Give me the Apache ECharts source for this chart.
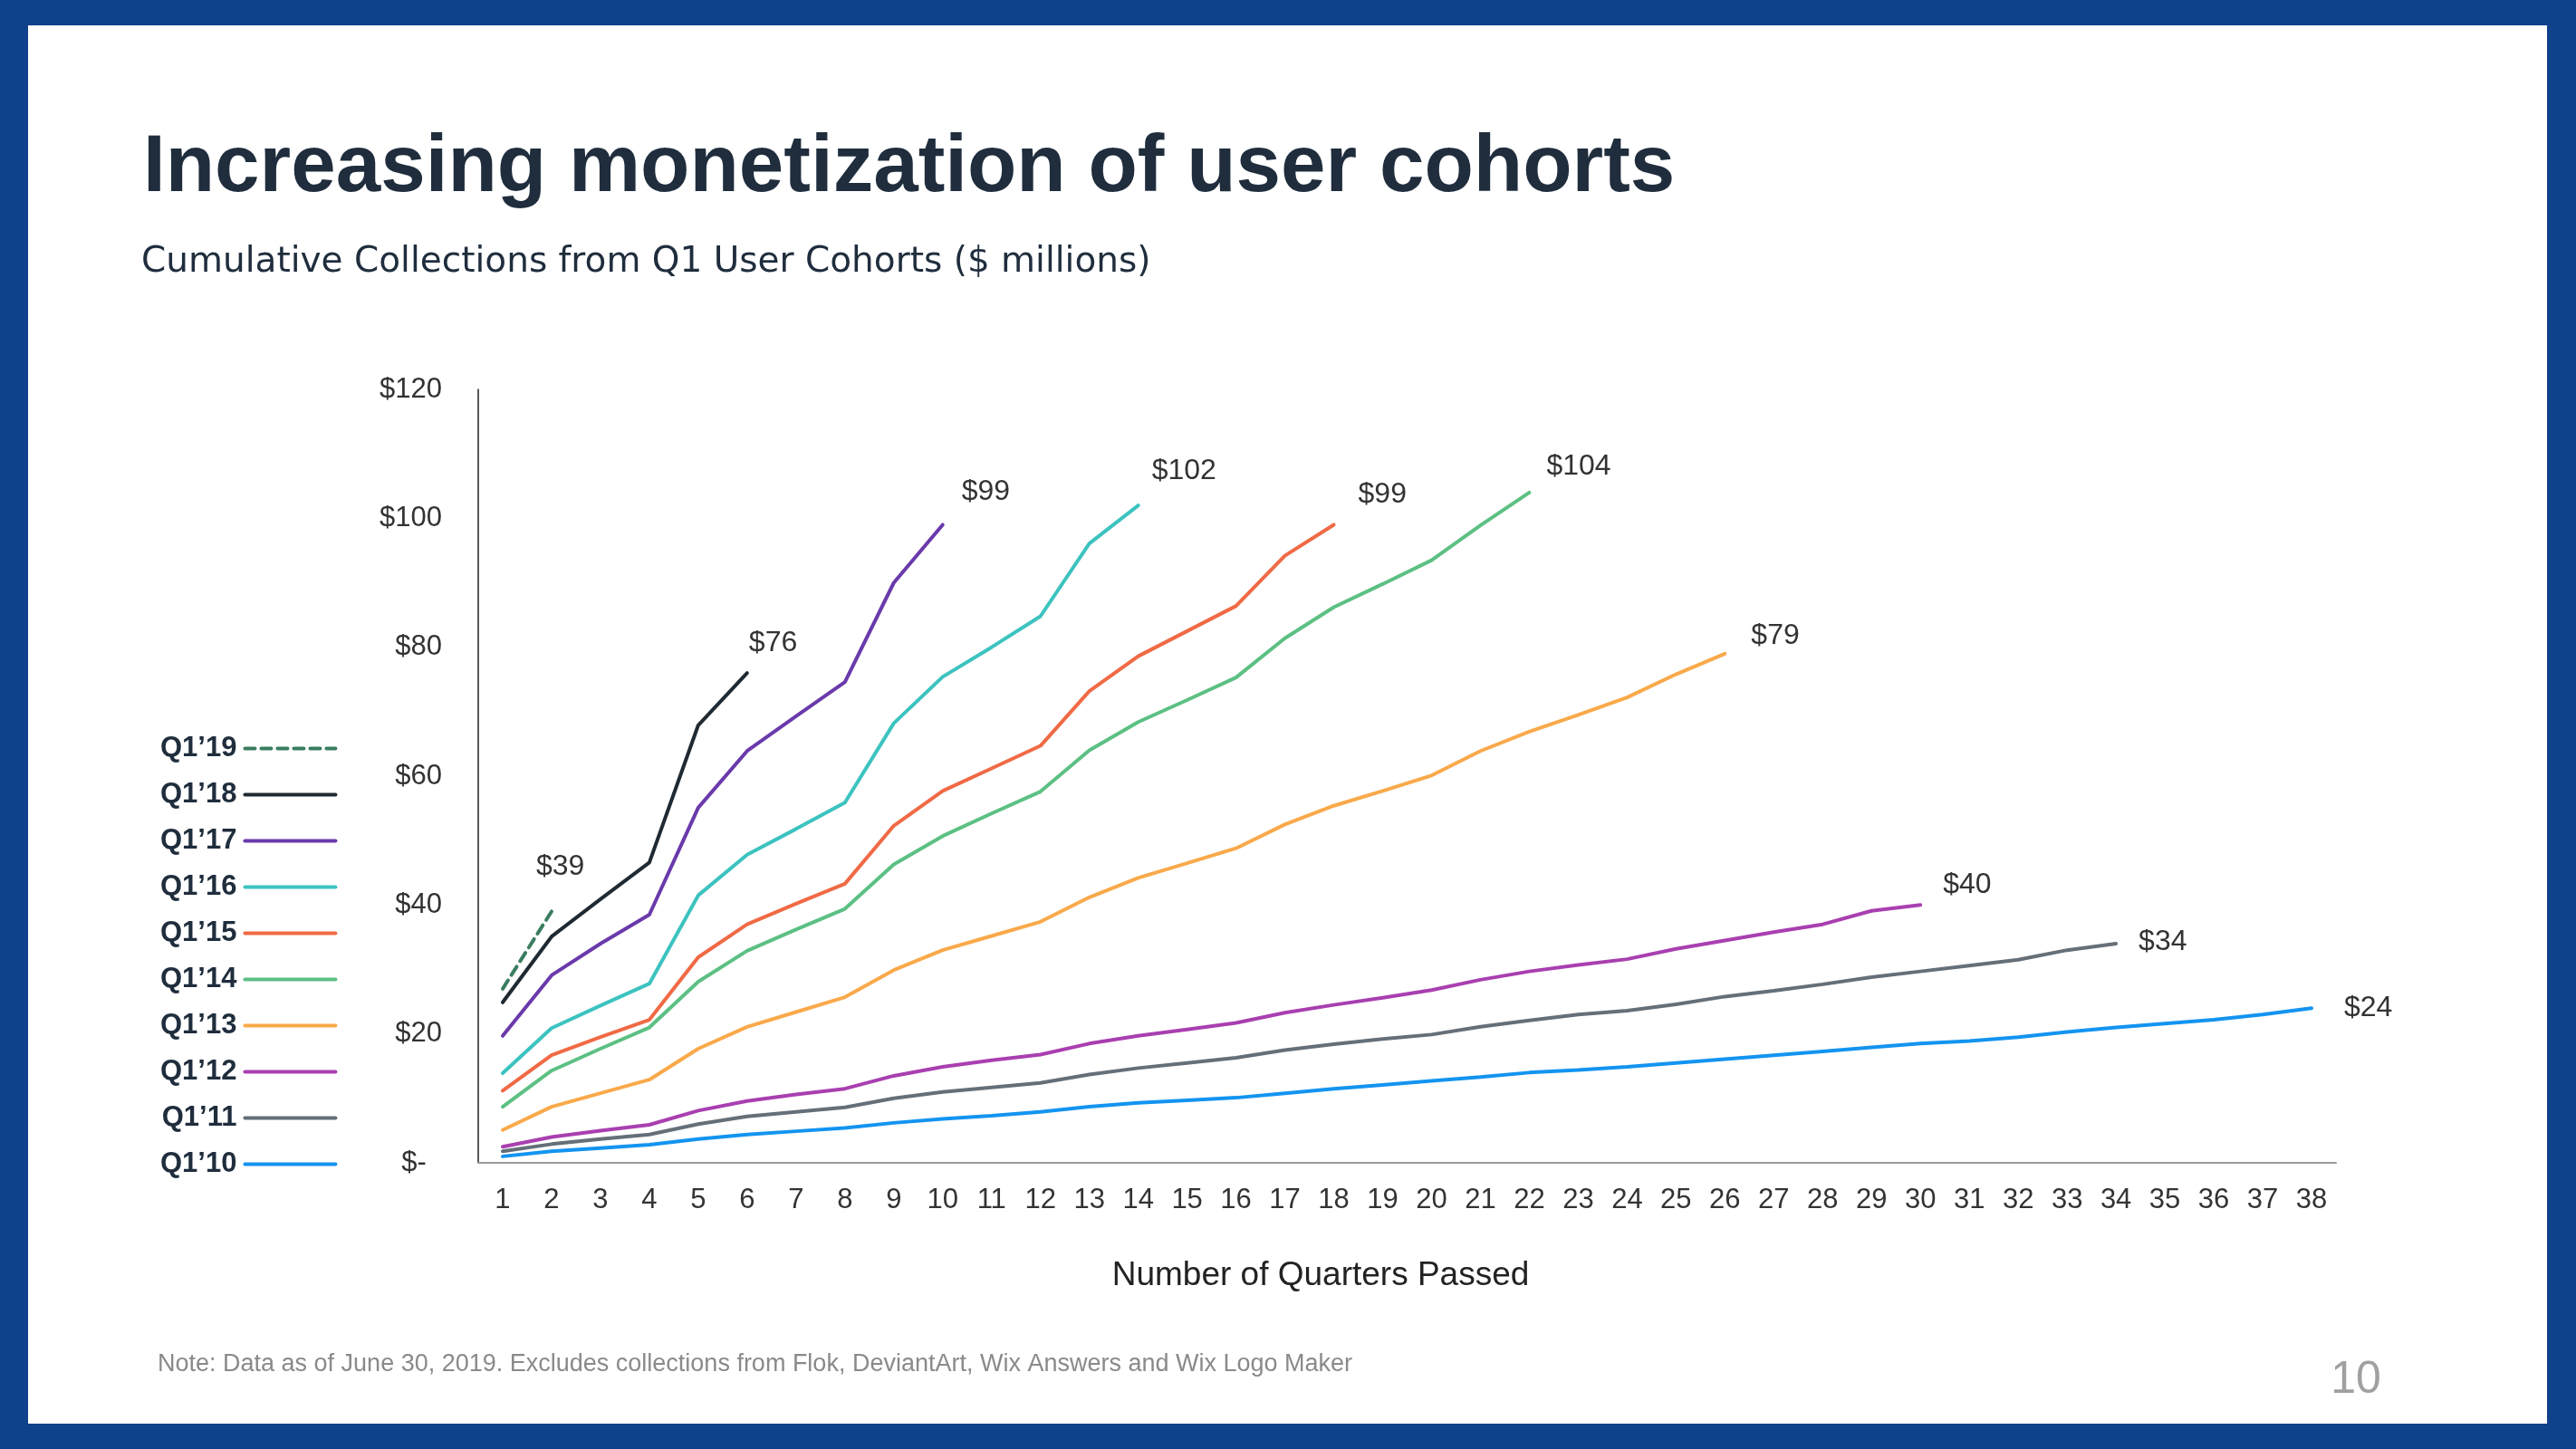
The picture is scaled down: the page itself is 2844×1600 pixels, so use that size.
<!DOCTYPE html>
<html>
<head>
<meta charset="utf-8">
<script src="https://cdn.jsdelivr.net/npm/echarts@6/dist/echarts.min.js"></script>
<style>
html,body{margin:0;padding:0;background:#10418B;}
#c{width:2844px;height:1600px;}
</style>
</head>
<body>
<div id="c"></div>
<script>
// ---------- DATA ----------
const quarters = ['1','2','3','4','5','6','7','8','9','10','11','12','13','14','15','16','17','18','19','20','21','22','23','24','25','26','27','28','29','30','31','32','33','34','35','36','37','38'];
const cohortNames = ['Q1’10','Q1’11','Q1’12','Q1’13','Q1’14','Q1’15','Q1’16','Q1’17','Q1’18','Q1’19'];
const q1_10 = [1.0,1.8,2.3,2.8,3.7,4.4,4.9,5.4,6.2,6.8,7.3,7.9,8.7,9.3,9.7,10.1,10.8,11.5,12.1,12.7,13.3,14.0,14.4,14.9,15.5,16.1,16.7,17.3,17.9,18.5,18.9,19.5,20.3,21.0,21.6,22.2,23.0,24.0];
const q1_11 = [1.8,2.9,3.7,4.4,6.0,7.2,7.9,8.6,10.0,11.0,11.7,12.4,13.7,14.7,15.5,16.3,17.5,18.4,19.2,19.9,21.1,22.1,23.0,23.6,24.6,25.8,26.7,27.7,28.8,29.7,30.6,31.5,33.0,34.0];
const q1_12 = [2.5,4.0,5.0,5.9,8.1,9.6,10.6,11.5,13.5,14.9,15.9,16.8,18.5,19.7,20.7,21.7,23.3,24.5,25.6,26.8,28.4,29.7,30.7,31.6,33.2,34.5,35.8,37.0,39.1,40.0];
const q1_13 = [5.1,8.7,10.8,12.9,17.7,21.1,23.4,25.7,29.9,33.0,35.2,37.4,41.2,44.2,46.5,48.8,52.5,55.4,57.7,60.1,63.9,66.9,69.5,72.2,75.8,79.0];
const q1_14 = [8.7,14.3,17.7,21.0,28.1,32.9,36.2,39.4,46.3,50.7,54.2,57.6,64.0,68.4,71.8,75.3,81.4,86.2,89.8,93.5,98.9,104.0];
const q1_15 = [11.2,16.7,19.5,22.2,31.9,37.0,40.2,43.3,52.3,57.7,61.2,64.7,73.2,78.6,82.5,86.4,94.2,99.0];
const q1_16 = [13.9,20.9,24.4,27.8,41.5,47.8,51.8,55.9,68.2,75.4,80.0,84.8,96.1,102.0];
const q1_17 = [19.7,29.1,34.0,38.5,55.1,63.9,69.3,74.6,90.0,99.0];
const q1_18 = [24.9,35.1,40.9,46.6,67.9,76.0];
const q1_19 = [27.0,39.0];
const yTicks = [0,20,40,60,80,100,120];
const legendOrder = ['Q1’19','Q1’18','Q1’17','Q1’16','Q1’15','Q1’14','Q1’13','Q1’12','Q1’11','Q1’10'];

// ---------- STYLE ----------
const cohortData = [q1_10,q1_11,q1_12,q1_13,q1_14,q1_15,q1_16,q1_17,q1_18,q1_19];
const colors = ['#1394F0','#656F78','#A93FB0','#F9A94A','#5CC083','#F06A45','#3CC3C0','#6A3AAB','#1F2A33','#3A7D5F'];
const labelOffsets = [[28,0],[17,-2],[17,-22],[21,-20],[11,-29],[19,-33],[7,-38],[13,-36],[-6,-33],[-25,-49]];
const FONT = '"Liberation Sans", Arial, Helvetica, sans-serif';

const series = cohortNames.map((name, i) => ({
  name: name,
  type: 'line',
  data: cohortData[i],
  symbol: 'none',
  smooth: false,
  z: 2 + i,
  lineStyle: { color: colors[i], width: 4, type: i === 9 ? [11, 7] : 'solid', cap: 'round' },
  itemStyle: { color: colors[i] },
  emphasis: { disabled: true },
  endLabel: {
    show: true,
    formatter: p => '$' + Math.round(p.value),
    offset: labelOffsets[i],
    color: '#333',
    fontSize: 32,
    fontFamily: FONT
  }
}));

const chart = echarts.init(document.getElementById('c'), null, { renderer: 'canvas' });
chart.setOption({
  animation: false,
  backgroundColor: '#10418B',
  grid: { left: 528, right: 265, top: 430, bottom: 316 },
  xAxis: {
    type: 'category',
    data: quarters,
    boundaryGap: true,
    axisLine: { show: true, lineStyle: { color: '#9a9a9a', width: 2 } },
    axisTick: { show: false },
    splitLine: { show: false },
    axisLabel: { interval: 0, color: '#333', fontSize: 31, margin: 26, fontFamily: FONT }
  },
  yAxis: {
    type: 'value',
    min: yTicks[0],
    max: yTicks[yTicks.length - 1],
    interval: yTicks[1] - yTicks[0],
    splitLine: { show: false },
    axisTick: { show: false },
    axisLine: { show: true, lineStyle: { color: '#222', width: 1.5 } },
    axisLabel: {
      formatter: v => v === 0 ? '$-  ' : '$' + v,
      color: '#333', fontSize: 31, margin: 40, fontFamily: FONT
    }
  },
  legend: {
    orient: 'vertical',
    left: 172,
    top: 806,
    align: 'right',
    itemWidth: 100,
    itemHeight: 30,
    itemGap: 20,
    selectedMode: false,
    data: legendOrder,
    itemStyle: { opacity: 0 },
    lineStyle: { width: 4 },
    textStyle: { fontSize: 31, fontWeight: 'bold', color: '#1f2d3d', fontFamily: FONT, lineHeight: 30, padding: [0, 4, 0, 0] }
  },
  graphic: [
    { type: 'rect', silent: true, z: -10, shape: { x: 31, y: 28, width: 2781, height: 1544 }, style: { fill: '#ffffff' } },
    { type: 'text', x: 158, y: 186, style: { text: 'Increasing monetization of user cohorts', fontSize: 89, fontWeight: 'bold', fontFamily: FONT, fill: '#1f2d3d', verticalAlign: 'middle', align: 'left' } },
    { type: 'text', x: 156, y: 290, style: { text: 'Cumulative Collections from Q1 User Cohorts ($ millions)', fontSize: 39, fontFamily: '"DejaVu Sans", ' + FONT, fill: '#1f2d3d', verticalAlign: 'middle', align: 'left' } },
    { type: 'text', x: 1458, y: 1409, style: { text: 'Number of Quarters Passed', fontSize: 37, fontFamily: FONT, fill: '#222', verticalAlign: 'middle', align: 'center' } },
    { type: 'text', x: 174, y: 1507, style: { text: 'Note: Data as of June 30, 2019. Excludes collections from Flok, DeviantArt, Wix Answers and Wix Logo Maker', fontSize: 27, fontFamily: FONT, fill: '#8a8a8a', verticalAlign: 'middle', align: 'left' } },
    { type: 'text', x: 2601, y: 1524, style: { text: '10', fontSize: 50, fontFamily: FONT, fill: '#a0a0a0', verticalAlign: 'middle', align: 'center' } }
  ],
  series: series
});
</script>
</body>
</html>
